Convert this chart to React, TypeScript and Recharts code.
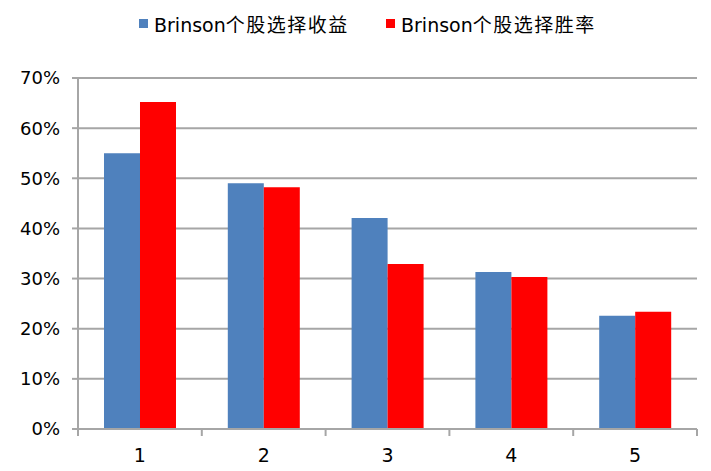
import { Bar, BarChart, CartesianGrid, XAxis, YAxis } from "recharts";

const categories = ["1", "2", "3", "4", "5"];
const returnShare = [0.55, 0.49, 0.421, 0.313, 0.226];
const winRate = [0.652, 0.482, 0.329, 0.303, 0.234];
const seriesNames = ["Brinson个股选择收益", "Brinson个股选择胜率"];
const yTicks = [0, 0.1, 0.2, 0.3, 0.4, 0.5, 0.6, 0.7];

const data = categories.map((c, i) => ({
  cat: c,
  ret: returnShare[i],
  win: winRate[i],
}));

const FONT = '"DejaVu Sans", "Noto Sans CJK SC", sans-serif';
const GRID = "#a6a6a6";
const BLUE = "#4f81bd";
const RED = "#ff0000";
const W = 711;
const H = 471;
const MARGIN = { top: 78, right: 14, bottom: 0, left: 0 };
const Y_W = 78;

function CategoryTick(props: any) {
  const { x, y, payload, index } = props;
  const plotW = props.width ?? W - MARGIN.right - Y_W;
  const bw = plotW / categories.length;
  const axisY = y - 6;
  const last = index === categories.length - 1;
  return (
    <g>
      <line x1={x - bw / 2} x2={x - bw / 2} y1={axisY} y2={axisY + 7} stroke={GRID} strokeWidth={2} />
      {last && (
        <line x1={x + bw / 2} x2={x + bw / 2} y1={axisY} y2={axisY + 7} stroke={GRID} strokeWidth={2} />
      )}
      <text x={x} y={axisY + 33} textAnchor="middle" fontSize={19} fontFamily={FONT} fill="#000">
        {payload.value}
      </text>
    </g>
  );
}

function LegendRow() {
  const colors = [BLUE, RED];
  const lefts = [139, 386];
  return (
    <>
      {seriesNames.map((name, i) => (
        <div
          key={name}
          style={{
            position: "absolute",
            left: lefts[i],
            top: 10,
            display: "flex",
            alignItems: "center",
            fontFamily: FONT,
            fontSize: 19,
            color: "#000",
            whiteSpace: "nowrap",
          }}
        >
          <span style={{ width: 9, height: 9, background: colors[i], marginRight: 6, display: "inline-block" }} />
          <span>
            {name.slice(0, 7)}
            <span style={{ letterSpacing: 1.5 }}>{name.slice(7)}</span>
          </span>
        </div>
      ))}
    </>
  );
}

export default function App() {
  return (
    <div style={{ position: "absolute", left: 0, top: 0, width: W, height: H, background: "#fff" }}>
      <LegendRow />
      <BarChart width={W} height={H} data={data} margin={MARGIN} barGap={0} barCategoryGap="21%">
        <CartesianGrid vertical={false} stroke={GRID} strokeWidth={2} />
        <XAxis
          dataKey="cat"
          height={42}
          tickSize={6}
          tickMargin={0}
          tickLine={false}
          axisLine={{ stroke: GRID, strokeWidth: 2 }}
          tick={<CategoryTick />}
          interval={0}
        />
        <YAxis
          width={Y_W}
          domain={[0, 0.7]}
          ticks={yTicks}
          tickFormatter={(v: number) => `${Math.round(v * 100)}%`}
          tick={{ fill: "#000", fontSize: 18, fontFamily: FONT }}
          tickSize={6}
          tickMargin={12}
          tickLine={{ stroke: GRID, strokeWidth: 2 }}
          axisLine={{ stroke: GRID, strokeWidth: 2 }}
        />
        <Bar dataKey="ret" name={seriesNames[0]} fill={BLUE} isAnimationActive={false} />
        <Bar dataKey="win" name={seriesNames[1]} fill={RED} isAnimationActive={false} />
      </BarChart>
    </div>
  );
}
